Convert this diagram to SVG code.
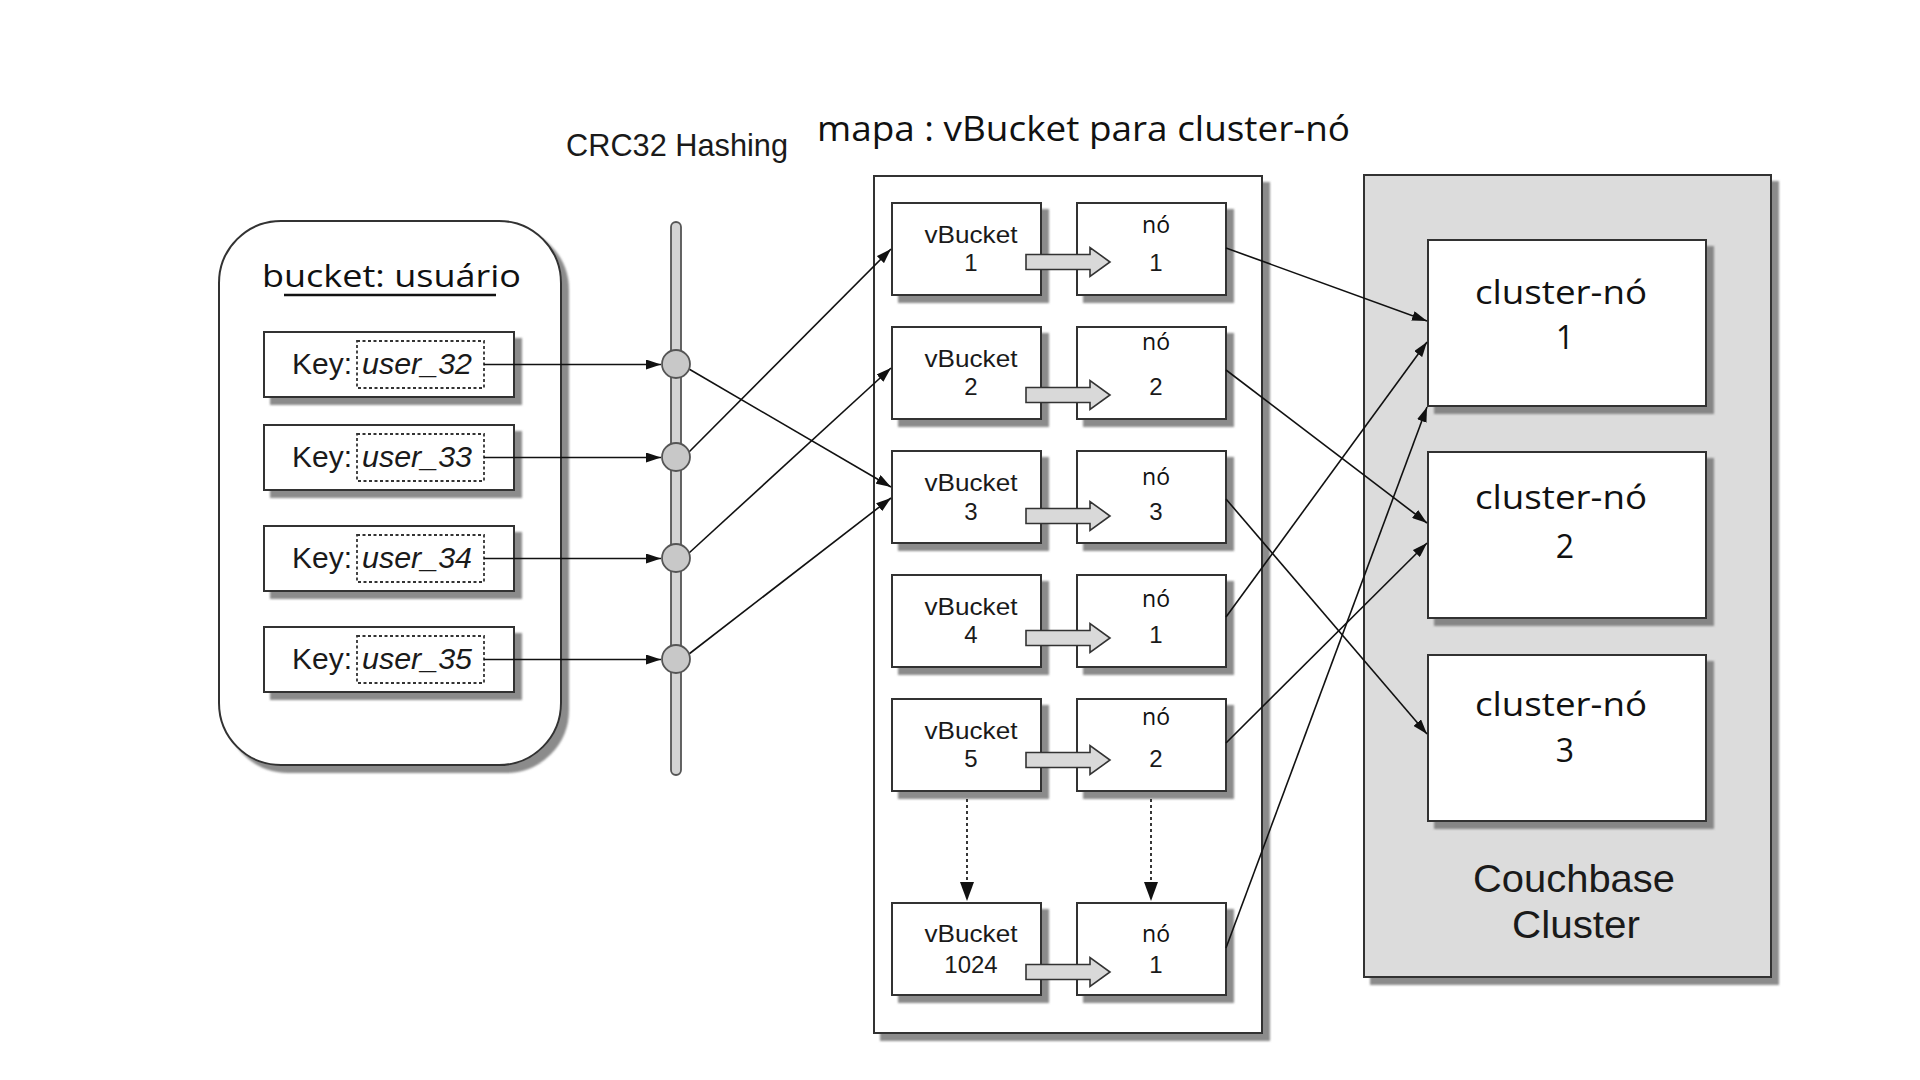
<svg xmlns="http://www.w3.org/2000/svg" width="1920" height="1080" viewBox="0 0 1920 1080">
<defs>
<filter id="sh" x="-10%" y="-10%" width="130%" height="130%"><feDropShadow dx="7" dy="7" stdDeviation="1.2" flood-color="#777" flood-opacity="0.85"/></filter>
<marker id="ah" viewBox="0 0 15 10" refX="15" refY="5" markerWidth="15" markerHeight="10" markerUnits="userSpaceOnUse" orient="auto"><path d="M0,0 L15,5 L0,10 z" fill="#111"/></marker>
<marker id="ad" viewBox="0 0 14 19" refX="7" refY="19" markerWidth="14" markerHeight="19" markerUnits="userSpaceOnUse" orient="0"><path d="M0,0 L14,0 L7,19 z" fill="#111"/></marker>
<path id="fat" d="M1026,-7.5 H1090 V-14.5 L1110,0 L1090,14.5 V7.5 H1026 Z"/>
</defs>
<style>
.box{fill:#fff;stroke:#333;stroke-width:2}
.sbox{fill:#fff;stroke:#333;stroke-width:2;filter:url(#sh)}
.dot{fill:none;stroke:#333;stroke-width:1.8;stroke-dasharray:3 2.5}
.ln{fill:none;stroke:#111;stroke-width:1.6}
.la{fill:none;stroke:#111;stroke-width:1.6;marker-end:url(#ah)}
.dl{fill:none;stroke:#222;stroke-width:1.8;stroke-dasharray:3 3;marker-end:url(#ad)}
.fat{fill:#d9d9d9;stroke:#333;stroke-width:1.6}
.hub{fill:#c8c8c8;stroke:#555;stroke-width:1.8}
.ar{font-family:"Liberation Sans",Arial,sans-serif;fill:#1a1a1a}
.os{font-family:"Open Sans","Noto Sans",sans-serif;fill:#111}
.key{font-size:29px}
.vb{font-size:24px;text-anchor:middle}
.no{font-size:23px;text-anchor:middle}
.cn{font-size:32px;text-anchor:middle}
</style>
<rect width="1920" height="1080" fill="#fff"/>

<g id="titles">
<text class="ar" x="566" y="156" font-size="32" textLength="222" lengthAdjust="spacingAndGlyphs">CRC32 Hashing</text>
<text class="os" x="817" y="141" font-size="34" textLength="533" lengthAdjust="spacingAndGlyphs">mapa : vBucket para cluster-nó</text>
</g>

<g id="bucket">
<rect class="sbox" x="219" y="221" width="342" height="544" rx="62" ry="62"/>
<text class="os" x="262" y="287" font-size="31" textLength="259" lengthAdjust="spacingAndGlyphs">bucket: usuário</text>
<line x1="284" y1="295" x2="496" y2="295" stroke="#111" stroke-width="2.5"/>
</g>

<g id="key32" transform="translate(0,332)">
<rect class="sbox" x="264" y="0" width="250" height="65"/>
<rect class="dot" x="357" y="9" width="127" height="47"/>
<text class="ar key" x="292" y="42" textLength="60" lengthAdjust="spacingAndGlyphs">Key:</text>
<text class="ar key" x="362" y="42" font-style="italic" textLength="110" lengthAdjust="spacingAndGlyphs">user_32</text>
</g>
<g id="key33" transform="translate(0,425)">
<rect class="sbox" x="264" y="0" width="250" height="65"/>
<rect class="dot" x="357" y="9" width="127" height="47"/>
<text class="ar key" x="292" y="42" textLength="60" lengthAdjust="spacingAndGlyphs">Key:</text>
<text class="ar key" x="362" y="42" font-style="italic" textLength="110" lengthAdjust="spacingAndGlyphs">user_33</text>
</g>
<g id="key34" transform="translate(0,526)">
<rect class="sbox" x="264" y="0" width="250" height="65"/>
<rect class="dot" x="357" y="9" width="127" height="47"/>
<text class="ar key" x="292" y="42" textLength="60" lengthAdjust="spacingAndGlyphs">Key:</text>
<text class="ar key" x="362" y="42" font-style="italic" textLength="110" lengthAdjust="spacingAndGlyphs">user_34</text>
</g>
<g id="key35" transform="translate(0,627)">
<rect class="sbox" x="264" y="0" width="250" height="65"/>
<rect class="dot" x="357" y="9" width="127" height="47"/>
<text class="ar key" x="292" y="42" textLength="60" lengthAdjust="spacingAndGlyphs">Key:</text>
<text class="ar key" x="362" y="42" font-style="italic" textLength="110" lengthAdjust="spacingAndGlyphs">user_35</text>
</g>

<g id="hashbar">
<rect x="671" y="222" width="10" height="553" rx="5" fill="#d4d4d4" stroke="#555" stroke-width="1.8"/>
</g>

<g id="map">
<rect class="sbox" x="874" y="176" width="388" height="857"/>
</g>

<g id="cluster">
<rect x="1364" y="175" width="407" height="802" fill="#dcdcdc" stroke="#333" stroke-width="2" filter="url(#sh)"/>
<text class="ar" x="1574" y="892" font-size="39" text-anchor="middle" textLength="202" lengthAdjust="spacingAndGlyphs">Couchbase</text>
<text class="ar" x="1576" y="938" font-size="39" text-anchor="middle" textLength="128" lengthAdjust="spacingAndGlyphs">Cluster</text>
</g>

<g id="cn1">
<rect class="sbox" x="1428" y="240" width="278" height="166"/>
<text class="os cn" x="1561" y="304" textLength="172" lengthAdjust="spacingAndGlyphs">cluster-nó</text>
<text class="os cn" x="1565" y="349" font-size="29">1</text>
</g>
<g id="cn2">
<rect class="sbox" x="1428" y="452" width="278" height="166"/>
<text class="os cn" x="1561" y="509" textLength="172" lengthAdjust="spacingAndGlyphs">cluster-nó</text>
<text class="os cn" x="1565" y="558" font-size="29">2</text>
</g>
<g id="cn3">
<rect class="sbox" x="1428" y="655" width="278" height="166"/>
<text class="os cn" x="1561" y="716" textLength="172" lengthAdjust="spacingAndGlyphs">cluster-nó</text>
<text class="os cn" x="1565" y="762" font-size="29">3</text>
</g>

<g id="vb1"><rect class="sbox" x="892" y="203" width="149" height="92"/>
<text class="ar vb" x="971" y="243" textLength="93" lengthAdjust="spacingAndGlyphs">vBucket</text><text class="ar vb" x="971" y="271">1</text></g>
<g id="vb2"><rect class="sbox" x="892" y="327" width="149" height="92"/>
<text class="ar vb" x="971" y="367" textLength="93" lengthAdjust="spacingAndGlyphs">vBucket</text><text class="ar vb" x="971" y="395">2</text></g>
<g id="vb3"><rect class="sbox" x="892" y="451" width="149" height="92"/>
<text class="ar vb" x="971" y="491" textLength="93" lengthAdjust="spacingAndGlyphs">vBucket</text><text class="ar vb" x="971" y="520">3</text></g>
<g id="vb4"><rect class="sbox" x="892" y="575" width="149" height="92"/>
<text class="ar vb" x="971" y="615" textLength="93" lengthAdjust="spacingAndGlyphs">vBucket</text><text class="ar vb" x="971" y="643">4</text></g>
<g id="vb5"><rect class="sbox" x="892" y="699" width="149" height="92"/>
<text class="ar vb" x="971" y="739" textLength="93" lengthAdjust="spacingAndGlyphs">vBucket</text><text class="ar vb" x="971" y="767">5</text></g>
<g id="vb1024"><rect class="sbox" x="892" y="903" width="149" height="92"/>
<text class="ar vb" x="971" y="942" textLength="93" lengthAdjust="spacingAndGlyphs">vBucket</text><text class="ar vb" x="971" y="973">1024</text></g>

<g id="no1"><rect class="sbox" x="1077" y="203" width="149" height="92"/>
<text class="os no" x="1156" y="233" textLength="28" lengthAdjust="spacingAndGlyphs">nó</text><text class="ar vb" x="1156" y="271">1</text></g>
<g id="no2"><rect class="sbox" x="1077" y="327" width="149" height="92"/>
<text class="os no" x="1156" y="350" textLength="28" lengthAdjust="spacingAndGlyphs">nó</text><text class="ar vb" x="1156" y="395">2</text></g>
<g id="no3"><rect class="sbox" x="1077" y="451" width="149" height="92"/>
<text class="os no" x="1156" y="485" textLength="28" lengthAdjust="spacingAndGlyphs">nó</text><text class="ar vb" x="1156" y="520">3</text></g>
<g id="no4"><rect class="sbox" x="1077" y="575" width="149" height="92"/>
<text class="os no" x="1156" y="607" textLength="28" lengthAdjust="spacingAndGlyphs">nó</text><text class="ar vb" x="1156" y="643">1</text></g>
<g id="no5"><rect class="sbox" x="1077" y="699" width="149" height="92"/>
<text class="os no" x="1156" y="725" textLength="28" lengthAdjust="spacingAndGlyphs">nó</text><text class="ar vb" x="1156" y="767">2</text></g>
<g id="no6"><rect class="sbox" x="1077" y="903" width="149" height="92"/>
<text class="os no" x="1156" y="942" textLength="28" lengthAdjust="spacingAndGlyphs">nó</text><text class="ar vb" x="1156" y="973">1</text></g>

<g id="connectors">
<line class="la" x1="484" y1="364.5" x2="661" y2="364.5"/>
<line class="la" x1="484" y1="457.5" x2="661" y2="457.5"/>
<line class="la" x1="484" y1="558.5" x2="661" y2="558.5"/>
<line class="la" x1="484" y1="659.5" x2="661" y2="659.5"/>
<line class="la" x1="689" y1="369" x2="891" y2="487"/>
<line class="la" x1="689" y1="452" x2="891" y2="249"/>
<line class="la" x1="689" y1="553" x2="891" y2="368"/>
<line class="la" x1="689" y1="654" x2="891" y2="498"/>
<use href="#fat" class="fat" y="262"/>
<use href="#fat" class="fat" y="395"/>
<use href="#fat" class="fat" y="516"/>
<use href="#fat" class="fat" y="638"/>
<use href="#fat" class="fat" y="760"/>
<use href="#fat" class="fat" y="972"/>
<line class="dl" x1="967" y1="799" x2="967" y2="901"/>
<line class="dl" x1="1151" y1="799" x2="1151" y2="901"/>
<line class="la" x1="1226" y1="248" x2="1427" y2="321"/>
<line class="la" x1="1226" y1="370" x2="1427" y2="523"/>
<line class="la" x1="1226" y1="499" x2="1427" y2="734"/>
<line class="la" x1="1226" y1="617" x2="1427" y2="342"/>
<line class="la" x1="1226" y1="743" x2="1427" y2="543"/>
<line class="la" x1="1226" y1="948" x2="1427" y2="407"/>
</g>

<g id="hubs">
<circle class="hub" cx="676" cy="364" r="14"/>
<circle class="hub" cx="676" cy="457" r="14"/>
<circle class="hub" cx="676" cy="558" r="14"/>
<circle class="hub" cx="676" cy="659" r="14"/>
</g>
</svg>
